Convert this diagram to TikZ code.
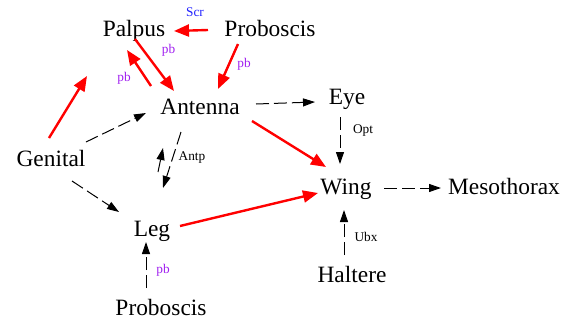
\documentclass[tikz,border=0pt]{standalone}
\usepackage{fontspec}
\setmainfont{Liberation Serif}
\usetikzlibrary{arrows.meta,calc}
\definecolor{pbpurple}{HTML}{A020F0}
\definecolor{scrblue}{HTML}{2020FF}

\tikzset{
	organ/.style={inner sep=0pt, text height=15pt, text depth=5pt, font=\fontsize{23.4}{28}\selectfont},
	lbl/.style={inner sep=0pt, font=\fontsize{13.3}{16}\selectfont},
	pbl/.style={lbl, text=pbpurple},
	redge/.style={red, line width=2.4pt, -{Triangle[length=15pt,width=12pt]}},
	dedge/.style={black, line width=1pt, dash pattern=on 13pt off 5pt, -{Triangle[length=12pt,width=8pt]}}
}

\begin{document}
\begin{tikzpicture}[x=1pt,y=-1pt]
	\useasboundingbox (0,0) rectangle (574,322);

	\node[organ] (palpus) at (134,31) {Palpus};
	\node[organ] (probTop) at (270,31) {Proboscis};
	\node[organ] (antenna) at (200,109) {Antenna};
	\node[organ] (eye) at (347,99) {Eye};
	\node[organ] (genital) at (51,161) {Genital};
	\node[organ] (wing) at (346,189) {Wing};
	\node[organ] (meso) at (504,189) {Mesothorax};
	\node[organ] (leg) at (152,231) {Leg};
	\node[organ] (haltere) at (352,277) {Haltere};
	\node[organ] (probBot) at (161,310) {Proboscis};
	\coordinate (gpal) at (87,76);

	% red edges
	\draw[redge] ($(probTop)+(-62,-1)$) -- node[lbl, text=scrblue, xshift=4pt, yshift=18pt] {Scr} ($(palpus)+(40,0)$);
	\draw[redge] ($(palpus)+(1,8)$) -- node[pbl, xshift=14pt, yshift=15pt] {pb} ($(antenna)+(-26,-18)$);
	\draw[redge] ($(antenna)+(-49,-23)$) -- node[pbl, xshift=-15pt, yshift=-10pt] {pb} ($(palpus)+(-7,19)$);
	\draw[redge] ($(probTop)+(-32,13)$) -- node[pbl, xshift=16pt, yshift=2pt] {pb} ($(antenna)+(18,-20)$);
	\draw[redge] ($(genital)+(-2,-23)$) -- (gpal);
	\draw[redge] ($(antenna)+(52,12)$) -- ($(wing)+(-20,-22)$);
	\draw[redge] ($(leg)+(28,-5)$) -- ($(wing)+(-28,4)$);

	% dashed edges
	\draw[dedge] ($(genital)+(35,-19)$) -- ($(antenna)+(-54,4)$);
	\draw[dedge] ($(antenna)+(56,-5)$) -- ($(eye)+(-32,3)$);
	\draw[dedge] ($(antenna)+(-19,23)$) -- node[lbl, xshift=20pt, yshift=2pt] {Antp} ($(leg)+(11,-43)$);
	\draw[dedge] ($(leg)+(6,-59)$) -- ($(antenna)+(-37,39)$);
	\draw[dedge] ($(genital)+(21,20)$) -- ($(leg)+(-33,-19)$);
	\draw[dedge] ($(probBot)+(-15,-22)$) -- node[pbl, xshift=17pt, yshift=-5pt] {pb} ($(leg)+(-6,11)$);
	\draw[dedge] ($(eye)+(-7,18)$) -- node[lbl, xshift=23pt, yshift=10pt] {Opt} ($(wing)+(-6,-25)$);
	\draw[dedge] ($(wing)+(38,-1)$) -- ($(meso)+(-63,-1)$);
	\draw[dedge] ($(haltere)+(-8,-22)$) -- node[lbl, xshift=22pt, yshift=-4pt] {Ubx} ($(wing)+(-2,21)$);
\end{tikzpicture}
\end{document}
